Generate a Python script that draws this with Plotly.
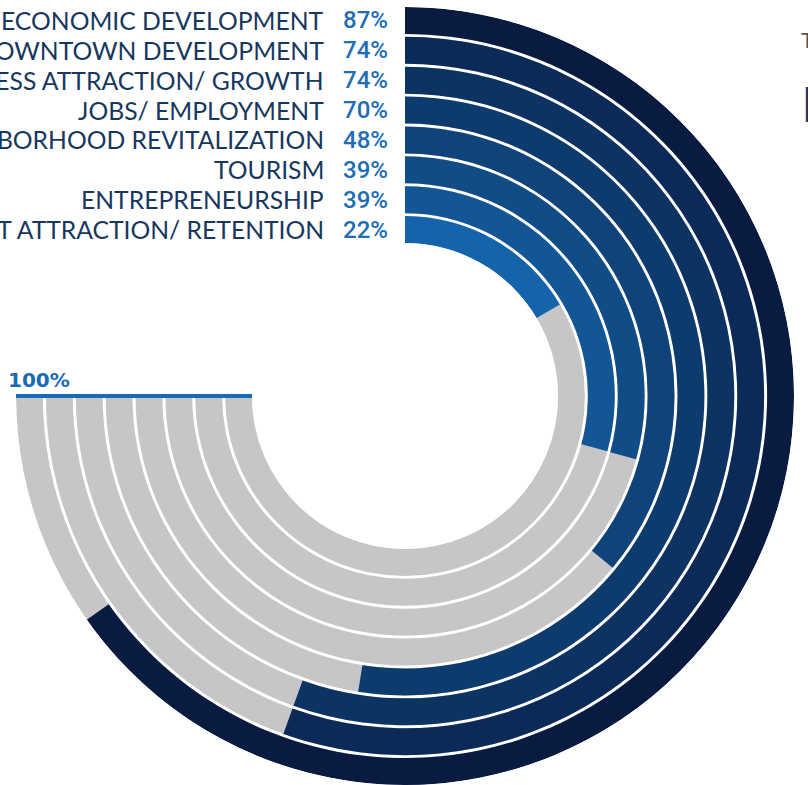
import plotly.graph_objects as go

# ---- data (outer ring first) ----
categories = [
    "ECONOMIC DEVELOPMENT",
    "DOWNTOWN DEVELOPMENT",
    "BUSINESS ATTRACTION/ GROWTH",
    "JOBS/ EMPLOYMENT",
    "NEIGHBORHOOD REVITALIZATION",
    "TOURISM",
    "ENTREPRENEURSHIP",
    "TALENT ATTRACTION/ RETENTION",
]
values = [87, 74, 74, 70, 48, 39, 39, 22]
ring_colors = ["#0a1b42", "#0c2a57", "#0d3363", "#0e3b6e",
               "#0f4379", "#104c86", "#125695", "#1563aa"]
gray = "#c6c6c8"
full_scale = 100
sweep = 270.0  # degrees used by 100%

W, H = 808, 785
cx, cy = 405, 396          # centre in px (from top)
R_out, R_in = 389, 153
n = len(values)
r_max = n - 0.1
band = 0.9

fig = go.Figure()
for i, (cat, v, col) in enumerate(zip(categories, values, ring_colors)):
    k = n - 1 - i  # ring index, 0 = innermost
    fig.add_trace(go.Barpolar(
        r=[band], base=[k], theta=[sweep / 2], width=[sweep],
        marker=dict(color=gray, line=dict(width=0)),
        hoverinfo="skip", showlegend=False))
    ang = v / full_scale * sweep
    fig.add_trace(go.Barpolar(
        r=[band], base=[k], theta=[ang / 2], width=[ang],
        marker=dict(color=col, line=dict(width=0)),
        name=cat, hoverinfo="skip", showlegend=False))

# 100% marker line
fig.add_trace(go.Scatterpolar(
    r=[0, r_max], theta=[sweep, sweep], mode="lines",
    line=dict(color="#1b6ab5", width=4), hoverinfo="skip", showlegend=False))

annotations = []
pitch = (R_out - R_in) / r_max
for i, (cat, v) in enumerate(zip(categories, values)):
    k = n - 1 - i
    ypx = cy - (R_in + (k + band / 2) * pitch)
    yp = 1 - ypx / H
    annotations.append(dict(
        x=326 / W, y=yp, xref="paper", yref="paper", xanchor="right", yanchor="middle",
        text=cat, showarrow=False,
        font=dict(family="Lato", size=24.7, color="#17375e")))
    annotations.append(dict(
        x=341 / W, y=yp, xref="paper", yref="paper", xanchor="left", yanchor="middle",
        text=f"{v}%", showarrow=False,
        font=dict(family="Roboto", size=24, weight=500, color="#1e6db5")))

annotations.append(dict(
    x=6 / W, y=1 - 380 / H, xref="paper", yref="paper", xanchor="left", yanchor="middle",
    text="<b>100%</b>", showarrow=False,
    font=dict(family="DejaVu Sans", size=20, color="#1b6ab5")))
# cut-off text at right edge
annotations.append(dict(
    x=799 / W, y=1 - 40 / H, xref="paper", yref="paper", xanchor="left", yanchor="middle",
    text="T", showarrow=False, font=dict(family="Lato", size=22, color="#555555")))
annotations.append(dict(
    x=800 / W, y=1 - 104 / H, xref="paper", yref="paper", xanchor="left", yanchor="middle",
    text="<b>B</b>", showarrow=False, font=dict(family="Lato", size=48, color="#17375e")))

fig.update_layout(
    width=W, height=H,
    margin=dict(l=0, r=0, t=0, b=0),
    paper_bgcolor="white", plot_bgcolor="white",
    annotations=annotations,
    polar=dict(
        domain=dict(x=[(cx - R_out) / W, (cx + R_out) / W],
                    y=[(H - cy - R_out) / H, (H - cy + R_out) / H]),
        hole=R_in / R_out,
        bgcolor="white",
        bargap=0,
        radialaxis=dict(visible=False, range=[0, r_max]),
        angularaxis=dict(visible=False, rotation=90, direction="clockwise"),
    ),
)

fig.write_html("out.html", config={"displayModeBar": False},
               post_script="document.body.style.margin='0';document.body.style.overflow='hidden';")
